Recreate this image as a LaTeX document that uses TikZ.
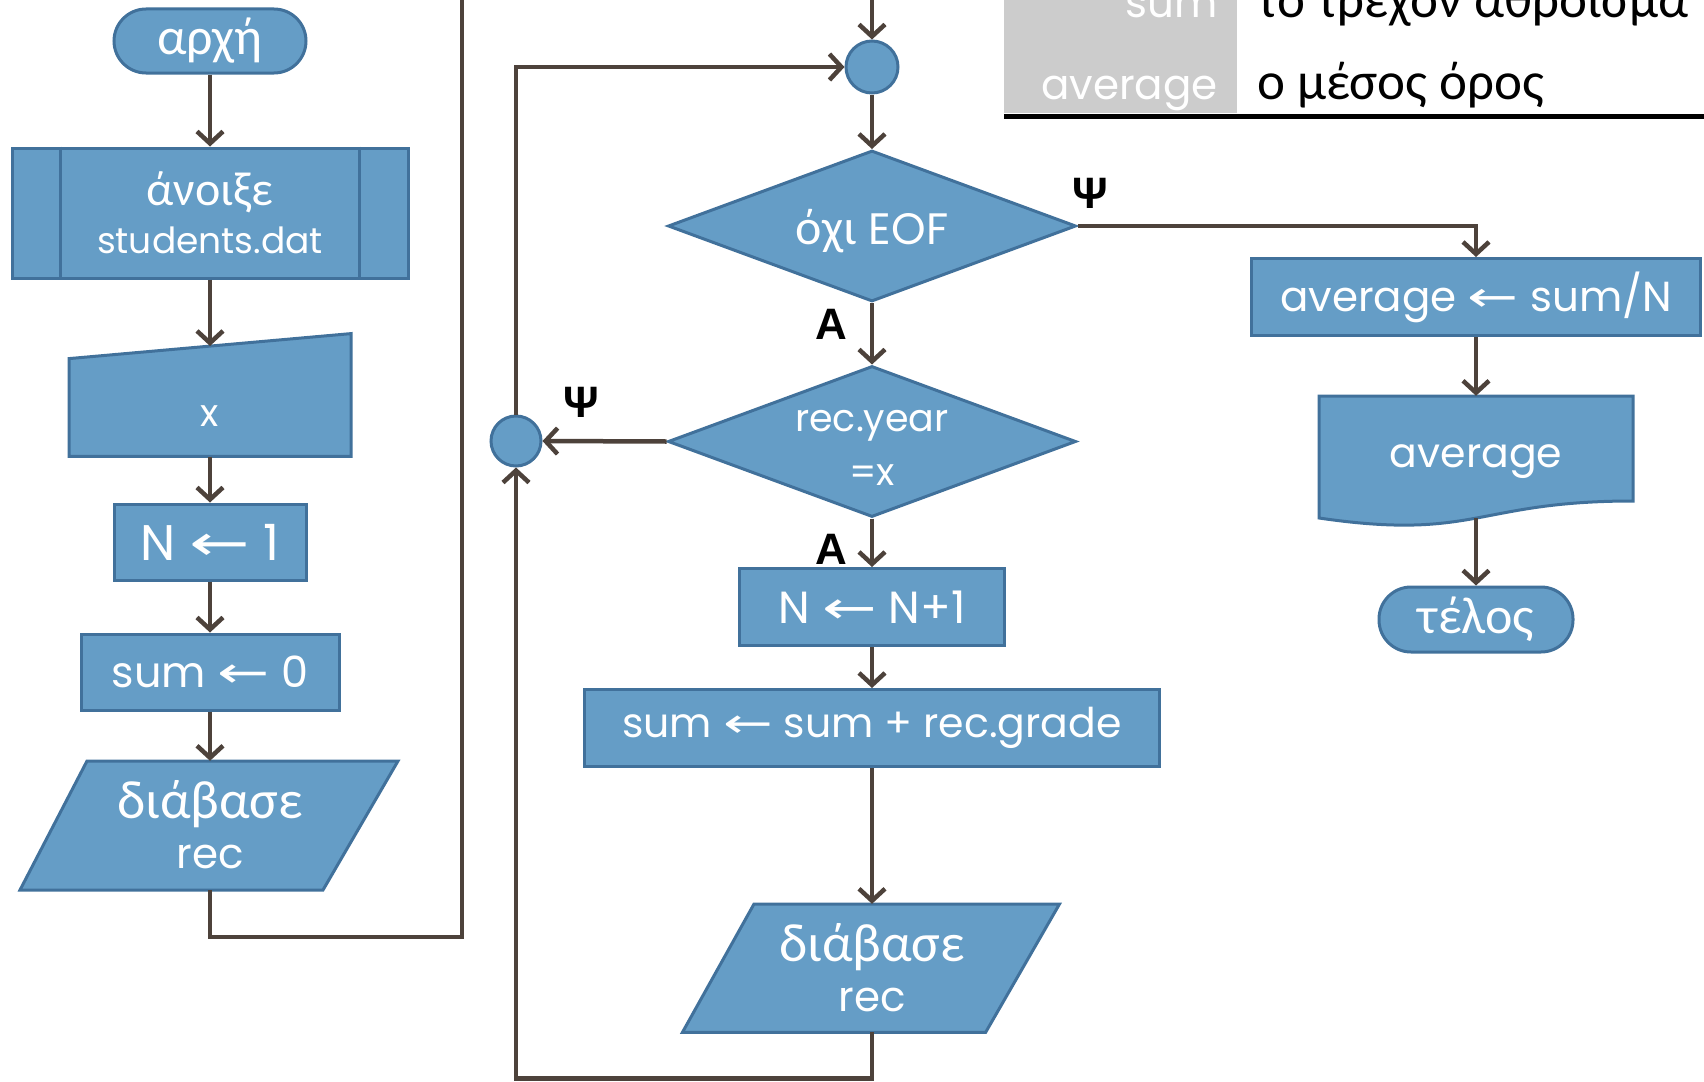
\documentclass[tikz,border=0pt]{standalone}
\usepackage{fontspec}
\setmainfont{Poppins}
\newfontfamily\grk{Carlito}
\newfontfamily\lbl{Liberation Sans}
\newfontfamily\arr{DejaVu Sans}
\usetikzlibrary{arrows.meta,shapes.geometric,calc}
\definecolor{boxfill}{HTML}{659DC6}
\definecolor{boxline}{HTML}{41719B}
\definecolor{wirec}{HTML}{4D423B}
\definecolor{cellgray}{HTML}{CCCCCC}
\newcommand{\fs}[2]{\fontsize{#1}{#2}\selectfont}
% long thin assignment arrow
\newcommand{\getsarrow}{\scalebox{1.45}[1]{\arr\symbol{"2190}}}
\begin{document}
\begin{tikzpicture}[x=1pt,y=-1pt,
  shp/.style={fill=boxfill,draw=boxline,line width=3pt},
  box/.style={shp,rectangle,inner sep=0pt,text=white,align=center},
  hid/.style={rectangle,inner sep=0pt,draw=none,fill=none},
  txt/.style={text=white,inner sep=0pt,align=center},
  wire/.style={draw=wirec,line width=4.5pt,-{Straight Barb[length=12pt,width=26pt]}},
  plain/.style={draw=wirec,line width=4.5pt},
  yn/.style={font=\lbl\bfseries\fs{44}{44},text=black,inner sep=0pt},
]
\useasboundingbox (0,0) rectangle (1704,1081);
\clip (0,0) rectangle (1704,1081);

% legend table
\fill[cellgray] (1004,-5) rectangle (1237,113);
\draw[black,line width=5pt] (1004,116) -- (1710,116);
\node[anchor=base east,text=white,inner sep=0pt,font=\fs{42}{42}] (kw1) at (1218,18) {sum};
\node[anchor=base west,text=black,inner sep=0pt,font=\grk\fs{53}{53}] (ds1) at (1257,18) {το τρέχον άθροισμα};
\node[anchor=base east,text=white,inner sep=0pt,font=\fs{42}{42}] (kw2) at (1218,99) {average};
\node[anchor=base west,text=black,inner sep=0pt,font=\grk\fs{53}{53}] (ds2) at (1257,99) {ο μέσος όρος};

% left column
\node[box,rounded corners=32pt,minimum width=192,minimum height=64,font=\grk\fs{52}{52}] (start) at (210,41) {αρχή};
\node[box,minimum width=396,minimum height=130,font=\fs{36}{48}] (sub) at (210,213)
  {{\grk\fs{48}{48}άνοιξε}\\students.dat};
\draw[boxline,line width=3pt] ($(sub.north west)+(50,0)$) -- ($(sub.south west)+(50,0)$);
\draw[boxline,line width=3pt] ($(sub.north east)+(-50,0)$) -- ($(sub.south east)+(-50,0)$);

\filldraw[shp] (69,358.6) -- (351,333.6) -- (351,456.4) -- (69,456.4) -- cycle;
\node[hid,minimum width=282,minimum height=123] (inp) at (210,395) {};
\coordinate (inptop) at (210,346);
\node[txt,font=\fs{38}{38}] (inpt) at (210,416) {x};

\node[box,minimum width=192,minimum height=76,font=\fs{50}{50}] (n1) at (210,542) {N \getsarrow\ 1};
\node[box,minimum width=258,minimum height=76,font=\fs{43}{43}] (s0) at (210,672) {sum \getsarrow\ 0};

\filldraw[shp] (87,761) -- (398,761) -- (323,890) -- (20,890) -- cycle;
\node[hid,minimum width=378,minimum height=129] (rd1) at (210,825.5) {};
\node[txt,font=\fs{42}{50}] (rd1t) at (210,825) {{\grk\fs{54}{50}διάβασε}\\rec};

\draw[wire] (start.south) -- (sub.north);
\draw[wire] (sub.south) -- (inptop);
\draw[wire] (inp.south) -- (n1.north);
\draw[wire] (n1.south) -- (s0.north);
\draw[wire] (s0.south) -- (rd1.north);

\coordinate (lpA) at (462,937);
\coordinate (exitTop) at (462,-30);
\coordinate (enterTop) at (872,-30);
\draw[plain] (rd1.south) |- (lpA) -- (exitTop);

% loop column
\node[circle,shp,minimum size=52,inner sep=0pt] (c1) at (872,67) {};
\node[diamond,shp,minimum width=408,minimum height=151,inner sep=0pt] (d1) at (872,226) {};
\node[txt,font=\fs{44}{44}] (d1t) at (872,231) {{\grk\fs{50}{50}όχι} EOF};
\node[diamond,shp,minimum width=408,minimum height=151,inner sep=0pt] (d2) at (872,441.5) {};
\node[txt,font=\fs{38}{54}] (d2t) at (872,448) {rec.year\\=x};
\node[circle,shp,minimum size=50,inner sep=0pt] (c2) at (516,441) {};

\node[box,minimum width=265,minimum height=77,font=\fs{45}{45}] (nn) at (872,607) {N \getsarrow\ N+1};
\node[box,minimum width=575,minimum height=77,font=\fs{41}{41}] (sg) at (872,728) {sum \getsarrow\ sum + rec.grade};

\filldraw[shp] (754,904) -- (1059.5,904) -- (985.6,1032.4) -- (682.4,1032.4) -- cycle;
\node[hid,minimum width=377,minimum height=128] (rd2) at (872,968) {};
\node[txt,font=\fs{42}{50}] (rd2t) at (872,968) {{\grk\fs{54}{50}διάβασε}\\rec};

\draw[wire] (enterTop) -- (c1.north);
\draw[wire] (c1.south) -- (d1.north);
\draw[wire] (d1.south) -- (d2.north);
\draw[wire] (d2.west) -- (c2.east);
\draw[wire] (c2.north) |- (c1.west);
\draw[wire] (d2.south) -- (nn.north);
\draw[wire] (nn.south) -- (sg.north);
\draw[wire] (sg.south) -- (rd2.north);
\coordinate (lpB) at (872,1078.5);
\draw[wire] (rd2.south) -- (lpB) -| (c2.south);

\node[yn] (y1) at (831,324) {Α};
\node[yn] (y2) at (831,549) {Α};
\node[yn] (n2) at (581,402) {Ψ};
\node[yn] (n3) at (1090,193.5) {Ψ};

% exit column
\node[box,minimum width=449,minimum height=77,font=\fs{42}{42}] (avg) at (1476,297) {average \getsarrow\ sum/N};
\filldraw[shp] (1319,396) -- (1633,396) -- (1633,501) .. controls (1476,501) and (1476,541) .. (1319,518) -- cycle;
\node[hid,minimum width=314,minimum height=122] (doc) at (1476,457) {};
\node[txt,font=\fs{41}{41}] (doct) at (1476,462) {average};
\node[box,rounded corners=32pt,minimum width=194,minimum height=65,font=\grk\fs{52}{52}] (end) at (1476,619.5) {τέλος};

\draw[wire] (d1.east) -| (avg.north);
\draw[wire] (avg.south) -- (doc.north);
\draw[wire] (doc.south) -- (end.north);
\end{tikzpicture}
\end{document}
